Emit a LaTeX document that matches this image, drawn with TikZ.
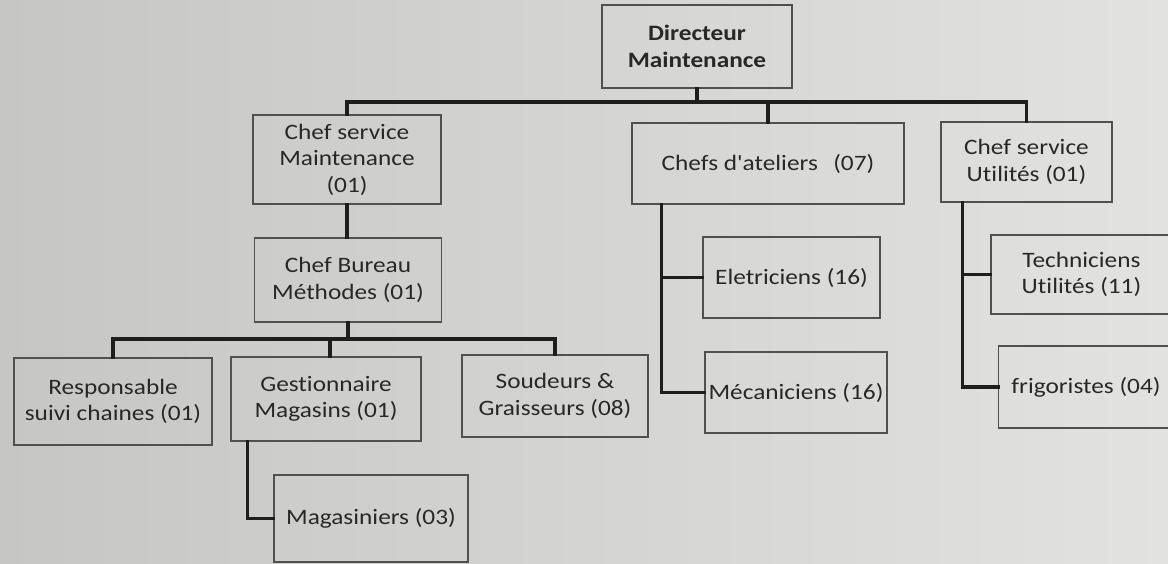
\documentclass[tikz,border=0pt]{standalone}
\usepackage{fontspec}
\newfontfamily\orgfont{Carlito}[Ligatures=NoCommon, FakeStretch=1.15]
\begin{document}
\begin{tikzpicture}[x=1pt,y=-1pt,
  box/.style={draw=boxline, line width=1.1pt, rectangle, align=center,
    text=inkgray, font=\orgfont\fontsize{22}{26.5}\selectfont, inner xsep=0pt, inner ysep=2pt},
  conn/.style={draw=connline, line width=3.6pt, line join=miter, line cap=rect}]
\definecolor{boxline}{RGB}{80,80,80}
\definecolor{connline}{RGB}{30,30,30}
\definecolor{inkgray}{RGB}{40,40,40}
\definecolor{paperL}{RGB}{198,198,196}
\definecolor{paperR}{RGB}{226,226,224}
% paper background
\shade[left color=paperL, right color=paperR] (0,0) rectangle (1168,564);
\useasboundingbox (0,0) rectangle (1168,564);
\begin{scope}
\clip (0,0) rectangle (1168,564);
% top level
\node[box, minimum width=190pt, minimum height=83pt, font=\orgfont\fontsize{22}{26.5}\selectfont\bfseries] (dir) at (697,46.5) {Directeur\\Maintenance};
% second level
\node[box, minimum width=188pt, minimum height=89pt] (csm) at (347,159.5) {Chef service\\Maintenance\\(01)};
\node[box, minimum width=272pt, minimum height=81pt] (cda) at (768,163.5) {Chefs d'ateliers\hspace{0.7em}(07)};
\node[box, minimum width=171pt, minimum height=80pt] (csu) at (1026.5,162) {Chef service\\Utilités (01)};
% maintenance branch
\node[box, minimum width=187pt, minimum height=84pt] (cbm) at (348,280) {Chef Bureau\\Méthodes (01)};
\node[box, minimum width=198pt, minimum height=87pt] (rsc) at (113,401.5) {Responsable\\suivi chaines (01)};
\node[box, minimum width=190pt, minimum height=84pt] (gm) at (326,399) {Gestionnaire\\Magasins (01)};
\node[box, minimum width=186pt, minimum height=82pt] (sg) at (555,396) {Soudeurs \&\\Graisseurs (08)};
\node[box, minimum width=194pt, minimum height=87pt] (mag) at (371,518.5) {Magasiniers (03)};
% workshop branch
\node[box, minimum width=177pt, minimum height=81pt] (ele) at (791.5,277.5) {Eletriciens (16)};
\node[box, minimum width=182pt, minimum height=81pt] (mec) at (796,392.5) {Mécaniciens (16)};
% utilities branch
\node[box, minimum width=181pt, minimum height=79pt] (tu) at (1081.5,274.5) {Techniciens\\Utilités (11)};
\node[box, minimum width=175pt, minimum height=82pt] (frig) at (1086,387) {frigoristes (04)};
% connectors
\coordinate (bus1) at (0,102);
\coordinate (bus2) at (0,339);
\draw[conn] (dir.south) -- (dir.south |- bus1);
\draw[conn] (csm.north) |- (bus1 -| csu.north) -- (csu.north);
\draw[conn] (cda.north) -- (cda.north |- bus1);
\draw[conn] (csm.south) -- (csm.south |- cbm.north);
\draw[conn] (cbm.south) -- (cbm.south |- bus2);
\draw[conn] (rsc.north) |- (bus2 -| sg.north) -- (sg.north);
\draw[conn] ([xshift=4pt]gm.north) -- ([xshift=4pt]gm.north |- bus2);
\draw[conn] ([xshift=17pt]gm.south west) |- (mag.west);
\coordinate (t1) at ([xshift=30pt]cda.south west);
\draw[conn] (t1) |- (mec.west);
\draw[conn] (ele.west) -- (ele.west -| t1);
\coordinate (t2) at ([xshift=22pt]csu.south west);
\draw[conn] (t2) |- (frig.west);
\draw[conn] (tu.west) -- (tu.west -| t2);
\end{scope}
\end{tikzpicture}
\end{document}
